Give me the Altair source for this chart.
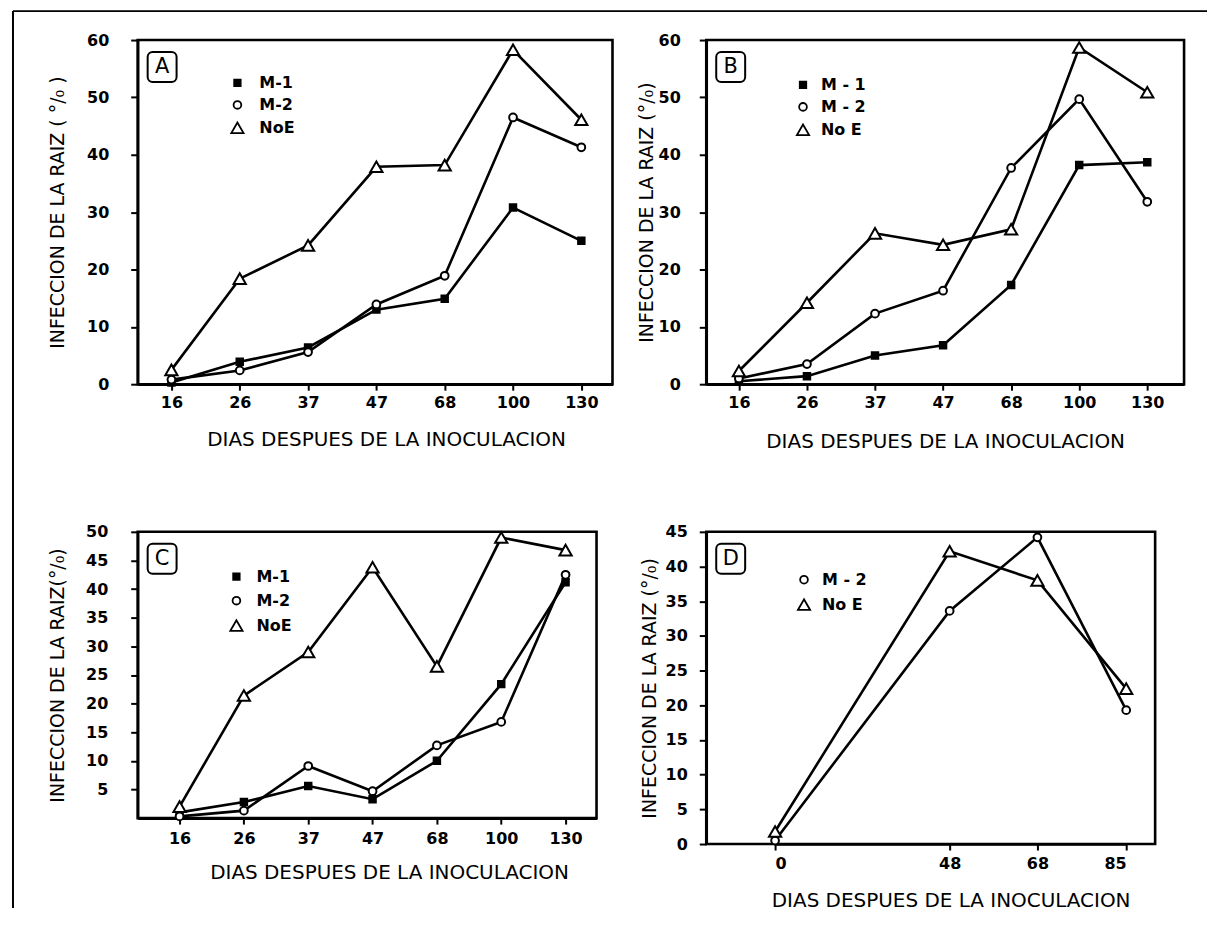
import altair as alt
import pandas as pd

# ---------------- data ----------------
DAYS = ["16", "26", "37", "47", "68", "100", "130"]

A_NAMES = ["M-1", "M-2", "NoE"]
A_M1 = [0.3, 3.9, 6.4, 13.0, 14.9, 30.8, 25.0]
A_M2 = [0.8, 2.4, 5.6, 13.9, 18.9, 46.5, 41.3]
A_NOE = [2.5, 18.4, 24.2, 37.9, 38.2, 58.3, 46.1]

B_NAMES = ["M - 1", "M - 2", "No E"]
B_M1 = [0.5, 1.4, 5.0, 6.8, 17.3, 38.2, 38.7]
B_M2 = [1.0, 3.5, 12.3, 16.3, 37.7, 49.7, 31.8]
B_NOE = [2.3, 14.2, 26.3, 24.3, 27.0, 58.7, 50.9]

C_NAMES = ["M-1 ", "M-2 ", "NoE "]
C_M1 = [1.0, 2.8, 5.6, 3.3, 10.0, 23.4, 41.2]
C_M2 = [0.3, 1.3, 9.1, 4.7, 12.7, 16.8, 42.5]
C_NOE = [2.0, 21.4, 29.0, 43.8, 26.5, 49.0, 46.8]

D_DAYS = [0, 48, 68, 85]
D_NAMES = ["M - 2 ", "No E "]
D_M2 = [0.5, 33.6, 44.2, 19.3]
D_NOE = [1.8, 42.2, 38.0, 22.4]

Y_TITLE_A = "INFECCION DE LA RAIZ ( °/₀ )"
Y_TITLE_B = "INFECCION DE LA RAIZ (°/₀)"
Y_TITLE_C = "INFECCION DE LA RAIZ(°/₀)"
X_TITLE = "DIAS DESPUES DE LA INOCULACION"

FONT = "DejaVu Sans"


def frame(days, series, names):
    rows = []
    for name, vals in zip(names, series):
        for i, (d, v) in enumerate(zip(days, vals)):
            rows.append({"day": d, "value": v, "series": name, "i": i})
    return pd.DataFrame(rows)


def panel(df, names, shapes, fills, sizes, xenc_type, xscale, xaxis, yscale, yaxis,
          width, height, letter, leg_x, leg_y, leg_offset, row_pad=6, extra=None):
    leg = alt.Legend(title=None, orient="none", legendX=leg_x, legendY=leg_y,
                     labelFontSize=16, labelFont=FONT, labelFontWeight="bold",
                     labelColor="black", symbolStrokeColor="black",
                     symbolStrokeWidth=1.8, rowPadding=row_pad, labelOffset=leg_offset,
                     padding=0, symbolOpacity=1)
    x = alt.X(f"day:{xenc_type}", scale=xscale, axis=xaxis)
    y = alt.Y("value:Q", scale=yscale, axis=yaxis)
    lines = alt.Chart(df).mark_line(color="black", strokeWidth=2.6).encode(
        x=x, y=y, detail="series:N", order="i:Q")
    pts = alt.Chart(df).mark_point(stroke="black", strokeWidth=2, opacity=1,
                                   fillOpacity=1).encode(
        x=x, y=y,
        shape=alt.Shape("series:N", scale=alt.Scale(domain=names, range=shapes), legend=leg),
        fill=alt.Fill("series:N", scale=alt.Scale(domain=names, range=fills), legend=leg),
        size=alt.Size("series:N", scale=alt.Scale(type="ordinal", domain=names, range=sizes),
                      legend=leg),
    )
    one = alt.Data(values=[{}])
    box = alt.Chart(one).mark_rect(fillOpacity=0, stroke="black", strokeWidth=2,
                                   cornerRadius=5).encode(
        x=alt.value(10), x2=alt.value(39), y=alt.value(12), y2=alt.value(42))
    txt = alt.Chart(one).mark_text(font=FONT, fontSize=21, color="black",
                                   baseline="middle", align="center").encode(
        x=alt.value(24.5), y=alt.value(27.5), text=alt.value(letter))
    layers = [lines, pts, box, txt]
    if extra:
        layers += extra
    return alt.layer(*layers).properties(width=width, height=height).resolve_scale(
        shape="independent", fill="independent", size="independent")


def yaxis(values, title, title_x, label_pad, label_expr=None):
    kw = dict(values=values, title=title, titleX=title_x, titleBaseline="middle",
              tickSize=7, labelPadding=label_pad, grid=False)
    if label_expr:
        kw["labelExpr"] = label_expr
    return alt.Axis(**kw)


def xaxis(title_x=None, label_pad=4, title_y=55, values=None):
    kw = dict(title=X_TITLE, labelAngle=0, tickSize=6, labelPadding=label_pad,
              titleY=title_y, titleBaseline="middle", grid=False, titleFontSize=20)
    if title_x is not None:
        kw["titleX"] = title_x
    if values is not None:
        kw["values"] = values
    return alt.Axis(**kw)


SH3 = ["square", "circle", "triangle-up"]
FI3 = ["black", "white", "white"]
SZ3 = [42, 60, 150]

# outer figure frame (drawn in panel A's coordinates)
one = alt.Data(values=[{}])
frame_top = alt.Chart(one).mark_rule(color="black", strokeWidth=2).encode(
    x=alt.value(-125), x2=alt.value(1072), y=alt.value(-29))
frame_left = alt.Chart(one).mark_rule(color="black", strokeWidth=2).encode(
    x=alt.value(-125), y=alt.value(-29), y2=alt.value(870))

pA = panel(frame(DAYS, [A_M1, A_M2, A_NOE], A_NAMES), A_NAMES, SH3, FI3, SZ3, "N",
           alt.Scale(type="point", domain=DAYS, padding=0.475, align=0.52),
           xaxis(title_x=249),
           alt.Scale(domain=[0, 60], nice=False),
           yaxis(list(range(0, 61, 10)), Y_TITLE_A, -80, 22),
           476, 345, "A", 92, 35, 14, extra=[frame_top, frame_left])

pB = panel(frame(DAYS, [B_M1, B_M2, B_NOE], B_NAMES), B_NAMES, SH3, FI3, SZ3, "N",
           alt.Scale(type="point", domain=DAYS, padding=0.51, align=0.47),
           xaxis(title_y=57),
           alt.Scale(domain=[0, 60], nice=False),
           yaxis(list(range(0, 61, 10)), Y_TITLE_B, -60, 19),
           479, 345, "B", 89, 37, 10)

pC = panel(frame(DAYS, [C_M1, C_M2, C_NOE], C_NAMES), C_NAMES, SH3, FI3, SZ3, "N",
           alt.Scale(type="point", domain=DAYS, padding=0.566, align=0.575),
           xaxis(title_x=252, label_pad=6),
           alt.Scale(domain=[0, 50], nice=False),
           yaxis(list(range(5, 51, 5)), Y_TITLE_C, -80, 23),
           460, 287, "C", 91, 37, 12, row_pad=8)

pD = panel(frame(D_DAYS, [D_M2, D_NOE], D_NAMES), D_NAMES, SH3[1:], FI3[1:], SZ3[1:], "Q",
           alt.Scale(domain=D_DAYS, range=[69, 244, 332, 421], zero=False, nice=False),
           xaxis(label_pad=6, title_y=57, values=D_DAYS),
           alt.Scale(domain=[0, 45], nice=False),
           yaxis(list(range(0, 46, 5)), Y_TITLE_B, -57, 12),
           450, 313, "D", 90, 40, 10, row_pad=8)

chart = alt.concat(pA, pB, pC, pD, columns=2, spacing={"row": 148, "column": 94},
                   bounds="flush").resolve_scale(
    x="independent", y="independent",
    shape="independent", fill="independent", size="independent",
).resolve_legend(
    shape="independent", fill="independent", size="independent",
).properties(
    padding={"left": 2, "top": -1, "right": 0, "bottom": 0},
    background="white",
).configure_view(
    stroke="black", strokeWidth=2.6
).configure_axis(
    domainColor="black", domainWidth=2.6, tickColor="black", tickWidth=2,
    labelColor="black", titleColor="black", labelFont=FONT, titleFont=FONT,
    labelFontSize=16, labelFontWeight="bold", titleFontSize=19,
    titleFontWeight="normal",
).configure_legend(
    symbolFillColor="white"
)

chart.save("out.html", embed_options={"renderer": "svg", "actions": False})
